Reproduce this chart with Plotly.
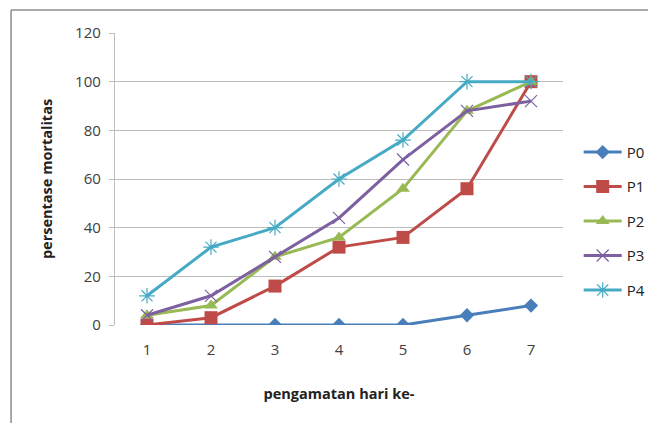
import plotly.graph_objects as go

days = ["1", "2", "3", "4", "5", "6", "7"]
series_names = ["P0", "P1", "P2", "P3", "P4"]
p0 = [0, 0, 0, 0, 0, 4, 8]
p1 = [0, 3, 16, 32, 36, 56, 100]
p2 = [4, 8, 28, 36, 56, 88, 100]
p3 = [4, 12, 28, 44, 68, 88, 92]
p4 = [12, 32, 40, 60, 76, 100, 100]
y_ticks = [0, 20, 40, 60, 80, 100, 120]

values = [p0, p1, p2, p3, p4]
colors = ["#4A7EBB", "#BE4B48", "#98B954", "#7D60A0", "#46AAC5"]
symbols = ["diamond", "square", "triangle-up", "x-thin", "asterisk"]
msizes = [11, 13, 12, 12, 13]

fig = go.Figure()
for i, (name, vals) in enumerate(zip(series_names, values)):
    open_sym = symbols[i] in ("x-thin", "asterisk")
    fig.add_trace(go.Scatter(
        x=days, y=vals, name=name, mode="lines+markers",
        legendgroup=name,
        line=dict(color=colors[i], width=3),
        marker=dict(symbol=symbols[i], size=msizes[i], color=colors[i],
                    line=dict(color=colors[i], width=1.2 if open_sym else 0)),
    ))

font = "Open Sans, Liberation Sans, sans-serif"
fig.update_layout(
    width=648, height=415,
    margin=dict(l=107, r=93, t=25, b=98, autoexpand=False),
    paper_bgcolor="white", plot_bgcolor="white",
    font=dict(family=font, size=15, color="#404040"),
    showlegend=True,
    legend=dict(x=1.035, y=0.648, xanchor="left", yanchor="top",
                tracegroupgap=12, traceorder="grouped",
                bgcolor="rgba(0,0,0,0)",
                font=dict(size=15, color="#222222"), itemwidth=38),
    xaxis=dict(type="category", range=[-0.5, 6.5], showgrid=False,
               showline=False, zeroline=False, ticks="",
               ticklabelstandoff=14,
               title=dict(text="<b>pengamatan hari ke-</b>", standoff=30,
                          font=dict(size=14.5, color="#222222"))),
    yaxis=dict(range=[0, 120], tickvals=y_ticks, showgrid=True,
               gridcolor="#BDBDBD", gridwidth=1.3, showline=True,
               linecolor="#BDBDBD", linewidth=1.3, zeroline=False,
               ticks="outside", ticklen=5, tickcolor="#BDBDBD",
               ticklabelstandoff=5,
               title=dict(text="<b>persentase mortalitas</b>", standoff=19,
                          font=dict(size=14.5, color="#222222"))),
    shapes=[
        dict(type="line", xref="paper", yref="paper", x0=-0.232, x1=-0.232,
             y0=-0.4, y1=1.079, line=dict(color="#8C8C8C", width=1.5)),
        dict(type="line", xref="paper", yref="paper", x0=-0.232, x1=1.3,
             y0=1.079, y1=1.079, line=dict(color="#8C8C8C", width=1.5)),
    ],
)

fig.write_html("out.html")
